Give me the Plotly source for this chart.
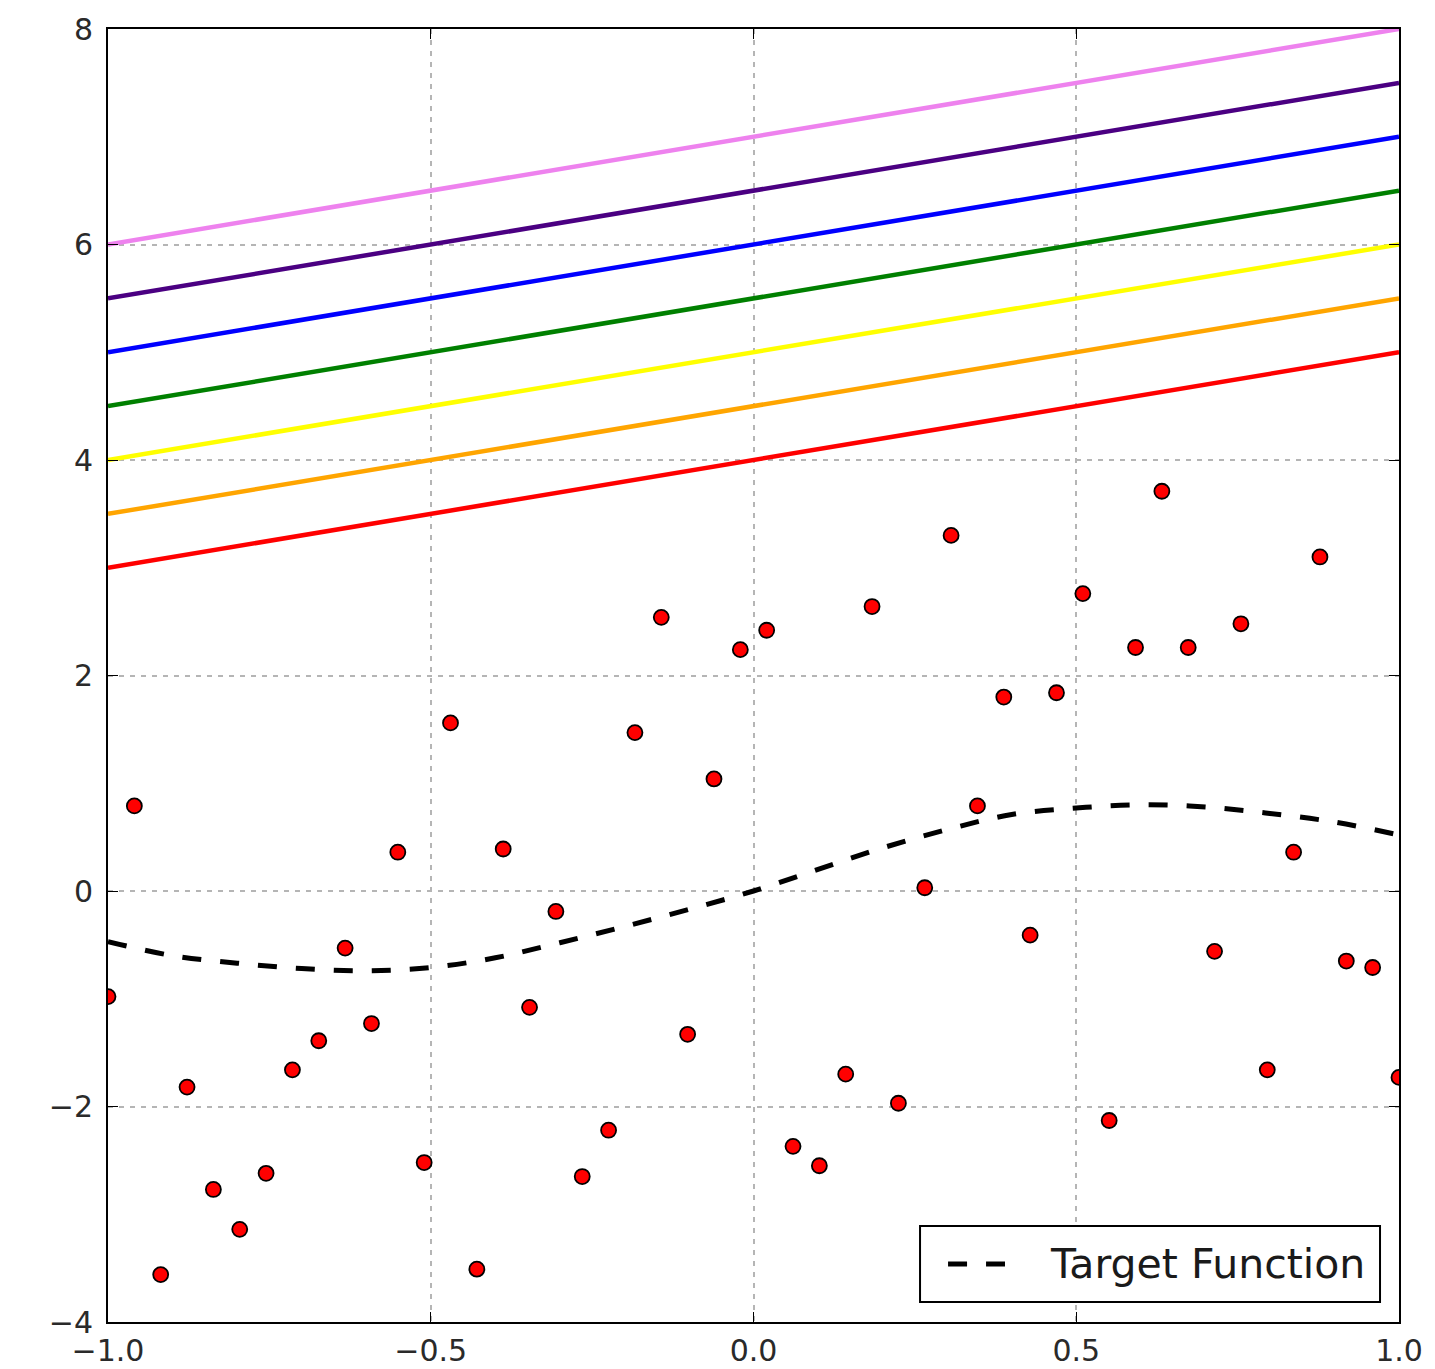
import plotly.graph_objects as go

# Data points (50 samples evenly spaced on [-1, 1])
point_x_start = -1.0
point_x_end = 1.0
point_y = [-0.98, 0.79, -3.56, -1.82, -2.77, -3.14, -2.62, -1.66, -1.39, -0.53,
           -1.23, 0.36, -2.52, 1.56, -3.51, 0.39, -1.08, -0.19, -2.65, -2.22,
           1.47, 2.54, -1.33, 1.04, 2.24, 2.42, -2.37, -2.55, -1.70, 2.64,
           -1.97, 0.03, 3.30, 0.79, 1.80, -0.41, 1.84, 2.76, -2.13, 2.26,
           3.71, 2.26, -0.56, 2.48, -1.66, 0.36, 3.10, -0.65, -0.71, -1.73]
n = len(point_y)
point_x = [point_x_start + i * (point_x_end - point_x_start) / (n - 1) for i in range(n)]

# Target function
target_x = [-1.0, -0.9, -0.8, -0.7, -0.6, -0.5, -0.4, -0.3, -0.2, -0.1, 0.0,
            0.1, 0.2, 0.3, 0.4, 0.5, 0.6, 0.7, 0.8, 0.9, 1.0]
target_y = [-0.47, -0.60, -0.67, -0.72, -0.74, -0.71, -0.62, -0.48, -0.33, -0.17, 0.0,
            0.20, 0.40, 0.57, 0.71, 0.77, 0.80, 0.78, 0.72, 0.64, 0.52]
target_name = "Target Function"

# Straight colored lines
line_x = [-1.0, 1.0]
line_starts = [3.0, 3.5, 4.0, 4.5, 5.0, 5.5, 6.0]
line_ends = [5.0, 5.5, 6.0, 6.5, 7.0, 7.5, 8.0]
line_colors = ["#FF0000", "#FFA500", "#FFFF00", "#008000", "#0000FF", "#4B0082", "#EE82EE"]

x_ticks = [-1.0, -0.5, 0.0, 0.5, 1.0]
y_ticks = [-4, -2, 0, 2, 4, 6, 8]

fig = go.Figure()

for y0, y1, c in zip(line_starts, line_ends, line_colors):
    fig.add_trace(go.Scatter(x=line_x, y=[y0, y1], mode="lines",
                             line=dict(color=c, width=4.5), showlegend=False,
                             hoverinfo="skip"))

fig.add_trace(go.Scatter(x=point_x, y=point_y, mode="markers",
                         marker=dict(color="#FF0000", size=15,
                                     line=dict(color="black", width=1.8)),
                         showlegend=False))

DASH = "19px,19px"
fig.add_trace(go.Scatter(x=target_x, y=target_y, mode="lines", name=target_name,
                         line=dict(color="black", width=5, dash=DASH, shape="spline"),
                         showlegend=False))

axis_common = dict(
    showline=True, linecolor="black", linewidth=2, mirror="ticks",
    ticks="inside", ticklen=10, tickwidth=1.2, tickcolor="black",
    showgrid=True, gridcolor="#b5b5b5", griddash="5px,6px", gridwidth=1.5,
    zeroline=False, automargin=False,
    tickfont=dict(family="DejaVu Sans", size=30, color="#2a2a2a"),
)

fig.update_xaxes(range=[-1, 1], tickvals=x_ticks,
                 ticktext=[f"{v:.1f}".replace("-", "\u2212") for v in x_ticks],
                 ticklabelstandoff=1, **axis_common)
fig.update_yaxes(range=[-4, 8], tickvals=y_ticks,
                 ticktext=[str(v).replace("-", "\u2212") for v in y_ticks],
                 ticklabelstandoff=7, **axis_common)

# Legend box drawn in paper coordinates (lower right)
fig.add_shape(type="rect", xref="paper", yref="paper",
              x0=0.629, x1=0.9853, y0=0.0155, y1=0.0742,
              line=dict(color="black", width=2), fillcolor="white", layer="above")
fig.add_shape(type="line", xref="paper", yref="paper",
              x0=0.6507, x1=0.6948, y0=0.0449, y1=0.0449,
              line=dict(color="black", width=5, dash=DASH), layer="above")
fig.add_annotation(xref="paper", yref="paper", x=0.7281, y=0.0449,
                   xanchor="left", yanchor="middle", showarrow=False,
                   text=target_name,
                   font=dict(family="DejaVu Sans", size=41, color="#1a1a1a"))

fig.update_layout(
    width=1427, height=1361,
    margin=dict(l=100, r=36, t=21, b=47, autoexpand=False),
    plot_bgcolor="white", paper_bgcolor="white",
    font=dict(family="DejaVu Sans"),
    showlegend=False,
)

fig.write_html("out.html")
